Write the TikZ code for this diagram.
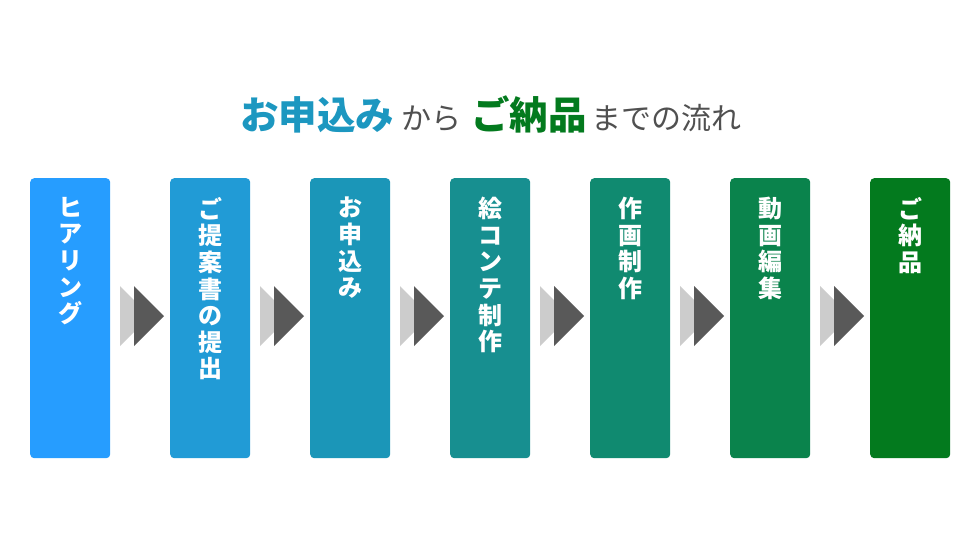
\documentclass[tikz,border=0pt]{standalone}
\usepackage{fontspec}
\newfontfamily\jp{Noto Sans CJK JP}
\definecolor{c1}{HTML}{269DFF}
\definecolor{c2}{HTML}{219BD6}
\definecolor{c3}{HTML}{1B96B8}
\definecolor{c4}{HTML}{178F90}
\definecolor{c5}{HTML}{108A70}
\definecolor{c6}{HTML}{0A834C}
\definecolor{c7}{HTML}{037A1E}
\definecolor{tblue}{HTML}{1C97C0}
\definecolor{tgreen}{HTML}{037A1E}
\definecolor{tgray}{HTML}{505050}
\definecolor{arrlight}{HTML}{CCCCCC}
\definecolor{arrdark}{HTML}{595959}
\tikzset{
  stepbox/.style={rectangle, rounded corners=4pt, minimum width=80pt, minimum height=280pt, inner sep=0pt, anchor=north west},
  steptext/.style={anchor=north, inner sep=0pt, align=center, text=white, font=\jp\bfseries\fontsize{24}{26.6}\selectfont},
  ttlbold/.style={anchor=base west, inner sep=0pt, font=\jp\bfseries\fontsize{38.5}{42}\selectfont},
  ttlthin/.style={anchor=base west, inner sep=0pt, text=tgray, font=\jp\fontsize{30}{33}\selectfont},
}
\begin{document}
\begin{tikzpicture}[x=1pt,y=-1pt]
\useasboundingbox (0,0) rectangle (980,555);
% title
\node[ttlbold, text=tblue] (t1) at (240,129) {お申込み};
\node[ttlthin] (t2) at (401,129) {から};
\node[ttlbold, text=tgreen] (t3) at (471,129) {ご納品};
\node[ttlthin] (t4) at (591,129) {までの流れ};
% boxes
\foreach \i/\c in {1/c1,2/c2,3/c3,4/c4,5/c5,6/c6,7/c7}{
  \node[stepbox, fill=\c] (b\i) at ({30+140*(\i-1)},178) {};
}
% texts
\node[steptext] (s1) at ([yshift=-19pt]b1.north) {ヒ\\ア\\リ\\ン\\グ};
\node[steptext] (s2) at ([yshift=-19pt]b2.north) {ご\\提\\案\\書\\の\\提\\出};
\node[steptext] (s3) at ([yshift=-19pt]b3.north) {お\\申\\込\\み};
\node[steptext] (s4) at ([yshift=-19pt]b4.north) {絵\\コ\\ン\\テ\\制\\作};
\node[steptext] (s5) at ([yshift=-19pt]b5.north) {作\\画\\制\\作};
\node[steptext] (s6) at ([yshift=-19pt]b6.north) {動\\画\\編\\集};
\node[steptext] (s7) at ([yshift=-19pt]b7.north) {ご\\納\\品};
% arrows
\foreach \i in {1,...,6}{
  \coordinate (a\i) at ({120+140*(\i-1)},316);
  \fill[arrlight] ([yshift=30pt]a\i) -- ([xshift=30pt]a\i) -- ([yshift=-30pt]a\i) -- cycle;
  \fill[arrdark] ([xshift=14pt,yshift=30pt]a\i) -- ([xshift=44pt]a\i) -- ([xshift=14pt,yshift=-30pt]a\i) -- cycle;
}
\end{tikzpicture}
\end{document}
